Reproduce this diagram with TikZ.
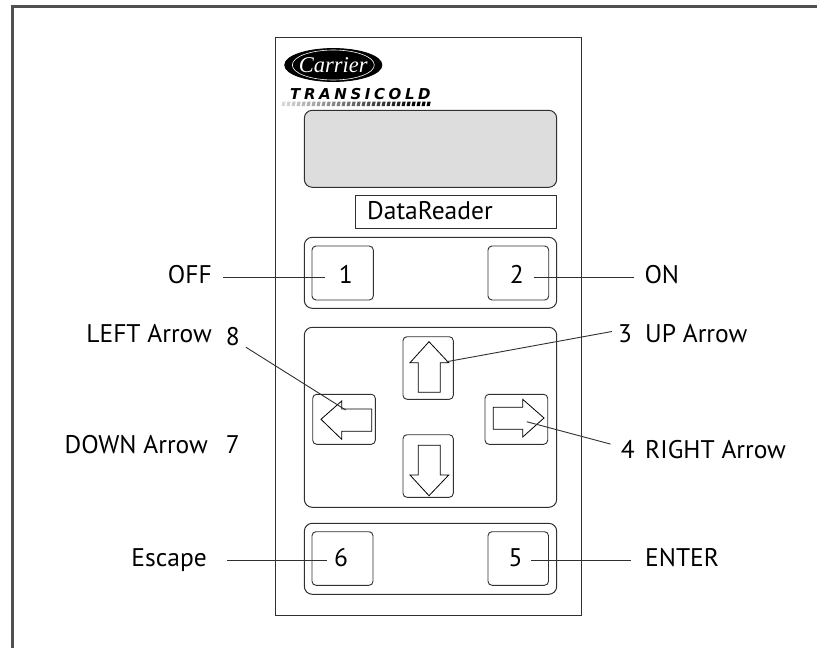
\documentclass[tikz,border=0pt]{standalone}
\usepackage{fontspec}
\usetikzlibrary{shapes.geometric}
\setmainfont{PT Sans}
\newfontfamily\carrierfont{Liberation Serif}
\newfontfamily\transifont[LetterSpace=24]{DejaVu Sans}
\definecolor{framegray}{HTML}{505050}
\definecolor{lcdgray}{HTML}{DDDDDD}
\definecolor{edgegray}{HTML}{303030}
\tikzset{
  keycap/.style={draw=edgegray,line width=.9pt,rounded corners=4pt},
  keygroup/.style={draw=edgegray,line width=1pt,rounded corners=8pt},
  lbl/.style={font=\fontsize{25.5}{30}\selectfont,text height=12pt,text depth=0pt,inner ysep=2pt},
  num/.style={lbl,inner xsep=6pt},
  lead/.style={draw=edgegray,line width=.9pt},
  arrowline/.style={draw=black,line width=.8pt,line join=miter}
}
\begin{document}
\begin{tikzpicture}[x=1pt,y=-1pt]
\useasboundingbox (0,0) rectangle (817,648);
\draw[framegray,line width=3pt] (817,6.5) -- (12.5,6.5) -- (12.5,648);
\draw[edgegray,line width=1pt] (275,37.5) rectangle (581.5,615.5);
\node[ellipse,fill=black,draw=black,line width=.8pt,minimum width=85pt,minimum height=33pt,inner sep=0pt,text=white,
  font=\fontsize{22.5}{26}\carrierfont\itshape] (logo) at (333.3,65) {Carrier};
\draw[white,line width=.6pt] (333.3,65) ellipse (41pt and 15pt);
\node[anchor=base west,inner sep=0pt,font=\fontsize{15}{18}\transifont\bfseries\itshape] (transicold) at (290,99.3) {TRANSICOLD};
\foreach \i in {0,...,29} {
  \pgfmathsetmacro{\shadepct}{min(100,15+\i*3.2)}
  \fill[black!\shadepct] (281.5+\i*5,106) -- ++(3.2,0) -- ++(1,-4.3) -- ++(-3.2,0) -- cycle;
}
\draw[keygroup,fill=lcdgray] (304.3,110.3) rectangle (556.7,187.3);
\node[draw=edgegray,line width=.9pt,minimum width=200.3pt,minimum height=32.3pt,inner sep=0pt] (namebox) at (455.8,212) {};
\node[lbl,anchor=base west,inner xsep=0pt] (nametext) at (367,219) {DataReader};
% top keys
\draw[keygroup] (304.3,237.3) rectangle (556.7,308.3);
\draw[keycap] (312,246) rectangle (373.3,300);
\draw[keycap] (488,246) rectangle (548.7,300);
\node[num,anchor=base,inner xsep=14pt] (n1) at (345.7,283.7) {1};
\node[num,anchor=base,inner xsep=10pt] (n2) at (516.7,283.7) {2};
\node[lbl,anchor=base east,inner xsep=11pt] (off) at (223,283.7) {OFF};
\node[lbl,anchor=base west,inner xsep=10pt] (on) at (634.3,283.7) {ON};
\draw[lead] (off) -- (n1);
\draw[lead] (n2) -- (on);
% arrow keys
\draw[keygroup] (304.3,327.3) rectangle (556.7,507.3);
\draw[keycap] (403,336.7) rectangle (453.3,399.3);
\draw[keycap] (403,434.7) rectangle (453.3,497.3);
\draw[keycap] (312.7,394.3) rectangle (375.3,444.3);
\draw[keycap] (485,394.3) rectangle (547.7,444.3);
\draw[arrowline] (418.3,362.7) -- (410,362.7) -- (429,341.7) -- (448.7,362.7) -- (440.3,362.7) -- (440.3,392.3) -- (418.3,392.3) -- cycle;
\draw[arrowline] (418.3,475) -- (410,475) -- (429,495.7) -- (448.7,475) -- (440.3,475) -- (440.3,445.3) -- (418.3,445.3) -- cycle;
\draw[arrowline] (341.7,409) -- (341.7,401) -- (321,419.3) -- (341.7,439.3) -- (341.7,431.3) -- (371.7,431.3) -- (371.7,409) -- cycle;
\draw[arrowline] (522.7,407.3) -- (522.7,399.3) -- (544,418) -- (522.7,437) -- (522.7,429.3) -- (493.3,429.3) -- (493.3,407.3) -- cycle;
\node[num,anchor=base] (n8) at (232.7,345) {8};
\node[num,anchor=base] (n7) at (232.7,453) {7};
\node[num,anchor=base] (n3) at (625,342.7) {3};
\node[num,anchor=base,inner xsep=10pt] (n4) at (627.7,458.3) {4};
\node[lbl,anchor=base east,inner xsep=0pt] (leftlbl) at (212,342.7) {LEFT Arrow};
\node[lbl,anchor=base east,inner xsep=0pt] (downlbl) at (208,453.3) {DOWN Arrow};
\node[lbl,anchor=base west,inner xsep=0pt] (uplbl) at (645,342.7) {UP Arrow};
\node[lbl,anchor=base west,inner xsep=0pt] (rightlbl) at (645,458.3) {RIGHT Arrow};
\coordinate (tip8) at (345.7,410);
\coordinate (tip3) at (446.7,361.7);
\coordinate (tip4) at (526.7,421.7);
\draw[lead] (n8.south east) -- (tip8);
\draw[lead] ([yshift=-3pt]n3.north west) -- (tip3);
\draw[lead] (n4.north west) -- (tip4);
% bottom keys
\draw[keygroup] (304.3,523.3) rectangle (556.7,594.3);
\draw[keycap] (312,531.7) rectangle (373,585.3);
\draw[keycap] (488,531.7) rectangle (548.5,585.3);
\node[num,anchor=base,inner xsep=6.4pt] (n6) at (341,566.5) {6};
\node[num,anchor=base,inner xsep=7.8pt] (n5) at (515.6,566.5) {5};
\node[lbl,anchor=base east,inner xsep=19.5pt] (esc) at (226.5,566.5) {Escape};
\node[lbl,anchor=base west,inner xsep=14pt] (enter) at (631,566.5) {ENTER};
\draw[lead] (esc) -- (n6);
\draw[lead] (n5) -- (enter);
\end{tikzpicture}
\end{document}
